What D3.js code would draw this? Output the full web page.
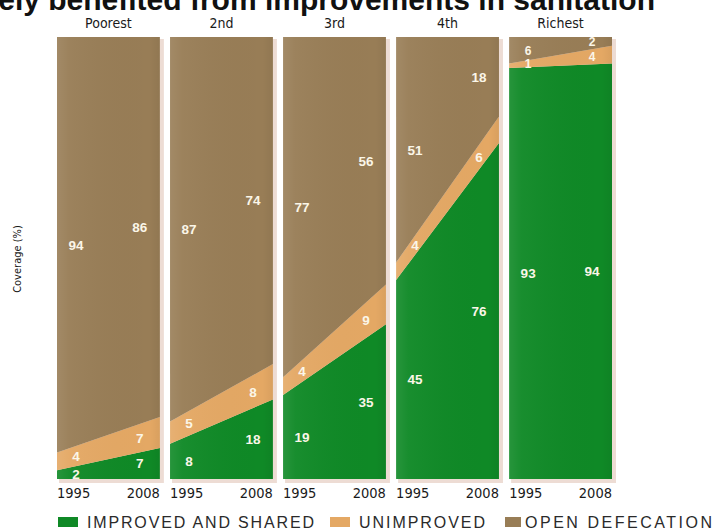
<!DOCTYPE html>
<html>
<head>
<meta charset="utf-8">
<script src="https://cdn.jsdelivr.net/npm/d3@7"></script>
<style>
  body { margin: 0; background: #fff; }
  svg { display: block; }
</style>
</head>
<body>
<script>
(function(){

    var groups = ["Poorest", "2nd", "3rd", "4th", "Richest"];
    var years = ["1995", "2008"];

    // coverage (%) per wealth quintile
    var improved1995 = [2, 8, 19, 45, 93],
        improved2008 = [7, 18, 35, 76, 94];
    var unimproved1995 = [4, 5, 4, 4, 1],
        unimproved2008 = [7, 8, 9, 6, 4];
    var openDef1995 = [94, 87, 77, 51, 6],
        openDef2008 = [86, 74, 56, 18, 2];

    var seriesNames = ["IMPROVED AND SHARED", "UNIMPROVED", "OPEN DEFECATION"];
    var keys = ["improved", "unimproved", "openDef"];
    var colors = ["#0f8926", "#e4a864", "#987d56"];

    var width = 715, height = 531;

    var svg = d3.select("body")
        .append("svg")
        .attr("width", width)
        .attr("height", height);

    var defs = svg.append("defs");

    var grad = defs.append("linearGradient")
        .attr("id", "panelShade")
        .attr("x1", "0").attr("x2", "1").attr("y1", "0").attr("y2", "0");
    grad.append("stop").attr("offset", "0").attr("stop-color", "#fff").attr("stop-opacity", 0.10);
    grad.append("stop").attr("offset", "0.12").attr("stop-color", "#fff").attr("stop-opacity", 0.04);
    grad.append("stop").attr("offset", "0.9").attr("stop-color", "#000").attr("stop-opacity", 0);
    grad.append("stop").attr("offset", "1").attr("stop-color", "#000").attr("stop-opacity", 0.05);

    // title, cut off at the top edge like in the source picture
    svg.append("text")
        .attr("x", 655)
        .attr("y", 10)
        .attr("text-anchor", "end")
        .style("font-family", "Liberation Sans, Arial, sans-serif")
        .style("font-weight", "bold")
        .style("font-size", "30px")
        .style("fill", "#111")
        .text("barely benefited from improvements in sanitation");

    var x = d3.scaleBand()
        .domain(groups)
        .range([57, 612])
        .paddingInner(0.09);

    var y = d3.scaleLinear()
        .domain([0, 100])
        .range([479, 37]);

    var xYear = d3.scalePoint()
        .domain(years)
        .range([0, x.bandwidth()]);

    // rows: one per group and year
    var rows = [];
    groups.forEach(function(g, i){
        rows.push({group: g, year: "1995", improved: improved1995[i], unimproved: unimproved1995[i], openDef: openDef1995[i]});
        rows.push({group: g, year: "2008", improved: improved2008[i], unimproved: unimproved2008[i], openDef: openDef2008[i]});
    });

    var stack = d3.stack().keys(keys);

    var narrowFont = "DejaVu Sans Condensed, Liberation Sans Narrow, sans-serif";

    groups.forEach(function(g, gi){
        var panelRows = rows.filter(function(r){ return r.group == g; });
        var stacked = stack(panelRows);
        var x0 = x(g);

        var panel = svg.append("g")
            .attr("class", "panel")
            .attr("transform", "translate(" + x0 + ",0)");

        // soft shadow
        panel.append("rect")
            .attr("x", 2)
            .attr("y", y(100) + 2)
            .attr("width", x.bandwidth() + 2)
            .attr("height", y(0) - y(100) + 2)
            .style("fill", "#eddcd4");

        var area = d3.area()
            .x(function(d){ return xYear(d.data.year); })
            .y0(function(d){ return y(d[0]); })
            .y1(function(d){ return y(d[1]); });

        panel.selectAll(".band")
            .data(stacked)
            .enter()
            .append("path")
            .attr("class", "band")
            .attr("d", area)
            .style("fill", function(d, i){ return colors[i]; });

        panel.append("rect")
            .attr("x", 0)
            .attr("y", y(100))
            .attr("width", x.bandwidth())
            .attr("height", y(0) - y(100))
            .style("fill", "url(#panelShade)");

        // value labels: centred in the band (thin middle band follows the slope)
        var fracs = {"1995": 19 / x.bandwidth(), "2008": 1 - 20 / x.bandwidth()};
        stacked.forEach(function(s){
            var a = s[0], b = s[1];
            years.forEach(function(yr, yi){
                var f = fracs[yr];
                var t = s.key == "unimproved" ? f : yi;
                var lo = a[0] + (b[0] - a[0]) * t,
                    hi = a[1] + (b[1] - a[1]) * t;
                var v = s[yi].data[s.key];
                panel.append("text")
                    .attr("x", f * x.bandwidth())
                    .attr("y", y((lo + hi) / 2))
                    .attr("dy", "0.36em")
                    .attr("text-anchor", "middle")
                    .style("font-family", "Liberation Sans, Arial, sans-serif")
                    .style("font-weight", "bold")
                    .style("font-size", (hi - lo) < 8 && gi == 4 ? "12px" : "13.5px")
                    .style("fill", "#fbf6e8")
                    .text(v);
            });
        });

        // group header
        svg.append("text")
            .attr("x", x0 + x.bandwidth() / 2)
            .attr("y", 28)
            .attr("text-anchor", "middle")
            .style("font-family", narrowFont)
            .style("font-size", "14px")
            .style("fill", "#1a1a1a")
            .text(g);

        // year labels
        years.forEach(function(yr, yi){
            svg.append("text")
                .attr("x", x0 + xYear(yr))
                .attr("y", 498)
                .attr("text-anchor", yi == 0 ? "start" : "end")
                .style("font-family", narrowFont)
                .style("font-size", "14.5px")
                .style("fill", "#1a1a1a")
                .text(yr);
        });
    });

    // y axis title
    svg.append("text")
        .attr("transform", "translate(21,259) rotate(-90)")
        .attr("text-anchor", "middle")
        .style("font-family", narrowFont)
        .style("font-size", "11px")
        .style("fill", "#1a1a1a")
        .text("Coverage (%)");

    // legend
    var legendX = [58, 330, 505];
    var legendW = [228, 127, 188];
    var legend = svg.selectAll(".legend")
        .data(seriesNames)
        .enter()
        .append("g")
        .attr("class", "legend")
        .attr("transform", function(d, i){ return "translate(" + legendX[i] + ",517)"; });

    legend.append("rect")
        .attr("width", function(d, i){ return i == 2 ? 16 : 20; })
        .attr("height", 10)
        .style("fill", function(d, i){ return colors[i]; });

    legend.append("text")
        .attr("x", function(d, i){ return i == 2 ? 20 : 29; })
        .attr("y", 11)
        .attr("textLength", function(d, i){ return legendW[i]; })
        .attr("lengthAdjust", "spacing")
        .style("font-family", "Liberation Sans, Arial, sans-serif")
        .style("font-size", "16px")
        .style("letter-spacing", "1px")
        .style("fill", "#2a2a2a")
        .text(function(d){ return d; });

})();
</script>
</body>
</html>
